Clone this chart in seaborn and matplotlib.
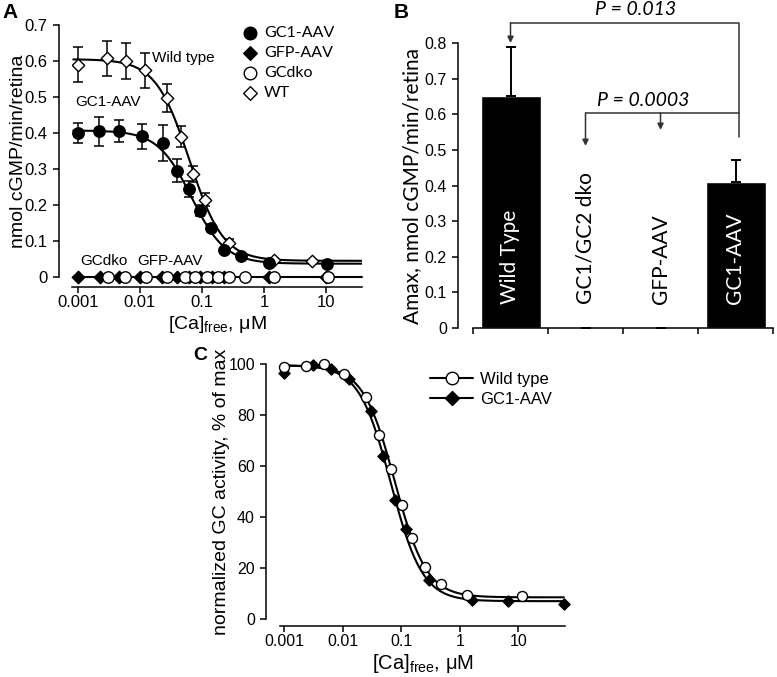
import numpy as np
import matplotlib
matplotlib.use('Agg')
import matplotlib.pyplot as plt
from matplotlib.lines import Line2D
from matplotlib.ticker import NullLocator
import seaborn as sns

# ---------- Panel A: GC activity (nmol cGMP/min/retina) vs free Ca ----------
wt_ca = [0.001, 0.003, 0.006, 0.012, 0.027, 0.046, 0.073, 0.113, 0.27, 1.45, 6.0]
wt_act = [0.590, 0.607, 0.600, 0.574, 0.497, 0.390, 0.285, 0.215, 0.095, 0.047, 0.044]
wt_sem = [0.048, 0.048, 0.051, 0.048, 0.040, 0.030, 0.022, 0.017, 0.010, 0.005, 0.003]

gc1_ca = [0.001, 0.0022, 0.0046, 0.0108, 0.0235, 0.0405, 0.062, 0.095, 0.14, 0.225, 0.42, 1.22, 10.5]
gc1_act = [0.401, 0.405, 0.406, 0.391, 0.373, 0.295, 0.244, 0.184, 0.137, 0.075, 0.058, 0.038, 0.036]
gc1_sem = [0.028, 0.040, 0.031, 0.035, 0.050, 0.032, 0.022, 0.015, 0.010, 0.005, 0.004, 0.003, 0.003]

gfp_ca = [0.001, 0.0023, 0.0047, 0.0101, 0.0226, 0.0395, 0.061, 0.094, 0.145, 0.229, 1.22, 10.0]
gfp_act = [0, 0, 0, 0, 0, 0, 0, 0, 0, 0, 0, 0]

dko_ca = [0.0031, 0.0058, 0.0126, 0.0272, 0.054, 0.078, 0.12, 0.185, 0.269, 0.5, 1.43, 10.7]
dko_act = [0, 0, 0, 0, 0, 0, 0, 0, 0, 0, 0, 0]

# Hill fit parameters: top, bottom, IC50 (uM), slope
fit_wt_A = [0.605, 0.045, 0.063, 1.6]
fit_gc1_A = [0.407, 0.037, 0.068, 1.6]
fit_range_A = [0.00085, 38]

# ---------- Panel B: Amax ----------
groups = ['Wild Type', 'GC1/GC2 dko', 'GFP-AAV', 'GC1-AAV']
amax = [0.652, 0.0, 0.0, 0.411]
amax_sem = [0.138, 0.0, 0.0, 0.061]

# ---------- Panel C: normalized activity, % of max ----------
wt_ca_C = [0.001, 0.00235, 0.0048, 0.0105, 0.025, 0.042, 0.066, 0.101, 0.154, 0.254, 0.47, 1.35, 11.4]
wt_norm = [98.7, 99.1, 100.0, 96.1, 86.9, 72.0, 59.0, 44.6, 31.6, 20.3, 13.9, 9.3, 8.9]

gc1_ca_C = [0.001, 0.00305, 0.0062, 0.0129, 0.030, 0.049, 0.078, 0.12, 0.301, 1.64, 6.76, 60.5]
gc1_norm = [96.5, 99.5, 98.0, 94.1, 81.4, 64.1, 46.5, 35.3, 15.4, 7.3, 6.9, 6.0]

fit_wt_C = [99.5, 8.5, 0.077, 1.6]
fit_gc1_C = [99.5, 7.0, 0.066, 1.6]
fit_range_C = [0.001, 60]


def hill(x, top, bottom, ic50, n):
    return bottom + (top - bottom) / (1 + (x / ic50) ** n)


sns.set_style('ticks', {'axes.edgecolor': 'black', 'xtick.color': 'black',
                        'ytick.color': 'black', 'text.color': 'black',
                        'axes.labelcolor': 'black'})
plt.rcParams['font.family'] = ['Liberation Sans', 'DejaVu Sans']
plt.rcParams['mathtext.default'] = 'regular'
plt.rcParams['axes.linewidth'] = 1.1
for ax_name in ['xtick', 'ytick']:
    plt.rcParams[ax_name + '.major.width'] = 1.1
    plt.rcParams[ax_name + '.major.size'] = 4.5

W, H = 777, 677
fig = plt.figure(figsize=(W / 100, H / 100), dpi=100)


def add_axes_px(left, top, right, bottom):
    return fig.add_axes([left / W, 1 - bottom / H, (right - left) / W, (bottom - top) / H])


ca_ticks = [0.001, 0.01, 0.1, 1, 10]
ca_labels = ['0.001', '0.01', '0.1', '1', '10']
ca_label = r'[Ca]$_{free}$, μM'

# ================= Panel A =================
axA = add_axes_px(72, 25, 362, 277)
axA.set_xscale('log')

xs = np.logspace(np.log10(fit_range_A[0]), np.log10(fit_range_A[1]), 300)
sns.lineplot(x=xs, y=hill(xs, *fit_wt_A), color='black', lw=1.5, estimator=None, ax=axA)
sns.lineplot(x=xs, y=hill(xs, *fit_gc1_A), color='black', lw=1.5, estimator=None, ax=axA)
sns.lineplot(x=fit_range_A, y=[0, 0], color='black', lw=1.5, estimator=None, ax=axA, clip_on=False)

axA.errorbar(wt_ca, wt_act, yerr=wt_sem, fmt='none', ecolor='black', elinewidth=1.1,
             capsize=3.6, capthick=1.1, zorder=2)
axA.errorbar(gc1_ca, gc1_act, yerr=gc1_sem, fmt='none', ecolor='black', elinewidth=1.1,
             capsize=3.6, capthick=1.1, zorder=2)

sns.scatterplot(x=wt_ca, y=wt_act, marker='D', s=40, color='white', edgecolor='black',
                linewidth=1.0, ax=axA, zorder=3, label='WT')
sns.scatterplot(x=gc1_ca, y=gc1_act, marker='o', s=68, color='black', edgecolor='black',
                linewidth=1.0, ax=axA, zorder=3, label='GC1-AAV')
sns.scatterplot(x=gfp_ca, y=gfp_act, marker='D', s=40, color='black', edgecolor='black',
                linewidth=1.0, ax=axA, zorder=3, clip_on=False, label='GFP-AAV')
sns.scatterplot(x=dko_ca, y=dko_act, marker='o', s=68, color='white', edgecolor='black',
                linewidth=1.0, ax=axA, zorder=4, clip_on=False, label='GCdko')

axA.set_xlim(0.00081, 38)
axA.set_ylim(0, 0.7)
axA.set_xticks(ca_ticks)
axA.set_xticklabels(ca_labels)
axA.xaxis.set_minor_locator(NullLocator())
axA.set_yticks(np.arange(0, 0.71, 0.1))
axA.set_yticklabels(['0', '0.1', '0.2', '0.3', '0.4', '0.5', '0.6', '0.7'])
axA.tick_params(labelsize=12)
axA.tick_params(axis='x', pad=1)
sns.despine(ax=axA, offset={'left': 9.4, 'bottom': 7.2})

axA.set_ylabel('nmol cGMP/min/retina', fontsize=14, va='center')
axA.yaxis.set_label_coords(-0.186, 0.5)
axA.set_xlabel(ca_label, fontsize=14, va='center')
axA.xaxis.set_label_coords(0.5, -0.19)

axA.text(0.0157, 0.608, 'Wild type', fontsize=11, ha='left', va='center')
axA.text(0.00091, 0.486, 'GC1-AAV', fontsize=11, ha='left', va='center')
axA.text(0.00109, 0.045, 'GCdko', fontsize=11, ha='left', va='center')
axA.text(0.009, 0.045, 'GFP-AAV', fontsize=11, ha='left', va='center')

handles, labels = axA.get_legend_handles_labels()
order = [labels.index(k) for k in ['GC1-AAV', 'GFP-AAV', 'GCdko', 'WT']]
axA.legend([handles[i] for i in order], [labels[i] for i in order],
           loc='upper left', bbox_to_anchor=(0.593, 0.995), frameon=False,
           borderpad=0, borderaxespad=0, handlelength=0.8, handletextpad=0.45,
           labelspacing=0.36, markerscale=1.1, prop={'family': 'Lato', 'size': 11.5})

# ================= Panel B =================
axB = add_axes_px(473, 43, 773, 328)
sns.barplot(x=groups, y=amax, color='black', width=0.8, saturation=1, errorbar=None, ax=axB)
axB.errorbar(range(len(groups)), amax, yerr=[[0] * len(groups), amax_sem], fmt='none',
             ecolor='black', elinewidth=1.4, capsize=3.3, capthick=1.4, zorder=3)
axB.set_xlim(-0.5, 3.5)
axB.set_ylim(0, 0.8)
axB.set_yticks(np.arange(0, 0.81, 0.1))
axB.set_yticklabels(['0', '0.1', '0.2', '0.3', '0.4', '0.5', '0.6', '0.7', '0.8'])
axB.set_xticks([-0.5, 0.5, 1.5, 2.5, 3.5])
axB.set_xticklabels([''] * 5)
axB.tick_params(labelsize=11.5)
sns.despine(ax=axB, offset={'left': 10.8, 'bottom': 0})
axB.set_ylabel('Amax, nmol cGMP/min/retina', fontsize=15, family='Lato', va='center')
axB.yaxis.set_label_coords(-0.203, 0.5)
axB.set_xlabel('')

for i, g in enumerate(groups):
    axB.text(i, 0.068, g, rotation=90, ha='center', va='bottom', fontsize=15,
             family='Lato', color='white' if amax[i] > 0.1 else 'black')

bracket = '#333333'
# P = 0.013: Wild Type vs GC1-AAV
axB.plot([0, 3.05, 3.05], [0.857, 0.857, 0.536], color=bracket, lw=1.1, clip_on=False)
axB.annotate('', xy=(0, 0.80), xytext=(0, 0.857), annotation_clip=False,
             arrowprops=dict(arrowstyle='-|>', color=bracket, lw=1.1, mutation_scale=9,
                             shrinkA=0, shrinkB=0))
axB.text(1.67, 0.893, 'P = 0.013', fontsize=14, family='Lato', style='italic',
         ha='center', va='center')
# P = 0.0003: GC1-AAV vs dko and GFP-AAV
axB.plot([1, 3.05], [0.604, 0.604], color=bracket, lw=1.1, clip_on=False)
axB.annotate('', xy=(1, 0.511), xytext=(1, 0.604), annotation_clip=False,
             arrowprops=dict(arrowstyle='-|>', color=bracket, lw=1.1, mutation_scale=9,
                             shrinkA=0, shrinkB=0))
axB.annotate('', xy=(2, 0.556), xytext=(2, 0.604), annotation_clip=False,
             arrowprops=dict(arrowstyle='-|>', color=bracket, lw=1.1, mutation_scale=9,
                             shrinkA=0, shrinkB=0))
axB.text(1.77, 0.64, 'P = 0.0003', fontsize=14, family='Lato', style='italic',
         ha='center', va='center')

# ================= Panel C =================
axC = add_axes_px(280, 364, 565, 619)
axC.set_xscale('log')
xs = np.logspace(np.log10(fit_range_C[0]), np.log10(fit_range_C[1]), 300)
sns.lineplot(x=xs, y=hill(xs, *fit_wt_C), color='black', lw=1.5, estimator=None, ax=axC)
sns.lineplot(x=xs, y=hill(xs, *fit_gc1_C), color='black', lw=1.5, estimator=None, ax=axC)
sns.scatterplot(x=gc1_ca_C, y=gc1_norm, marker='D', s=32, color='black', edgecolor='black',
                linewidth=1.0, ax=axC, zorder=3, clip_on=False)
sns.scatterplot(x=wt_ca_C, y=wt_norm, marker='o', s=52, color='white', edgecolor='black',
                linewidth=1.0, ax=axC, zorder=4, clip_on=False)

axC.set_xlim(0.00084, 62.8)
axC.set_ylim(0, 100)
axC.set_xticks(ca_ticks)
axC.set_xticklabels(ca_labels)
axC.xaxis.set_minor_locator(NullLocator())
axC.set_yticks([0, 20, 40, 60, 80, 100])
axC.tick_params(labelsize=11.5)
axC.tick_params(axis='x', pad=1)
sns.despine(ax=axC, offset={'left': 10, 'bottom': 5})
axC.set_ylabel('normalized GC activity, % of max', fontsize=14, va='center')
axC.yaxis.set_label_coords(-0.207, 0.5)
axC.set_xlabel(ca_label, fontsize=14.5, va='center')
axC.xaxis.set_label_coords(0.5, -0.175)

legend_C = [Line2D([], [], color='black', lw=1.5, marker='o', ms=9, mfc='white', mec='black'),
            Line2D([], [], color='black', lw=1.5, marker='D', ms=7, mfc='black', mec='black')]
axC.legend(legend_C, ['Wild type', 'GC1-AAV'], loc='upper left', bbox_to_anchor=(0.526, 0.97),
           frameon=False, borderpad=0, borderaxespad=0, handlelength=2.6, handletextpad=0.42,
           labelspacing=0.3, fontsize=12)

# panel letters
fig.text(10.5 / W, 1 - 12.5 / H, 'A', fontsize=15, fontweight='bold', ha='center', va='center')
fig.text(401 / W, 1 - 12 / H, 'B', fontsize=15, fontweight='bold', ha='center', va='center')
fig.text(200 / W, 1 - 356 / H, 'C', fontsize=14, fontweight='bold', ha='center', va='center')

fig.savefig('out.png', dpi=100)
